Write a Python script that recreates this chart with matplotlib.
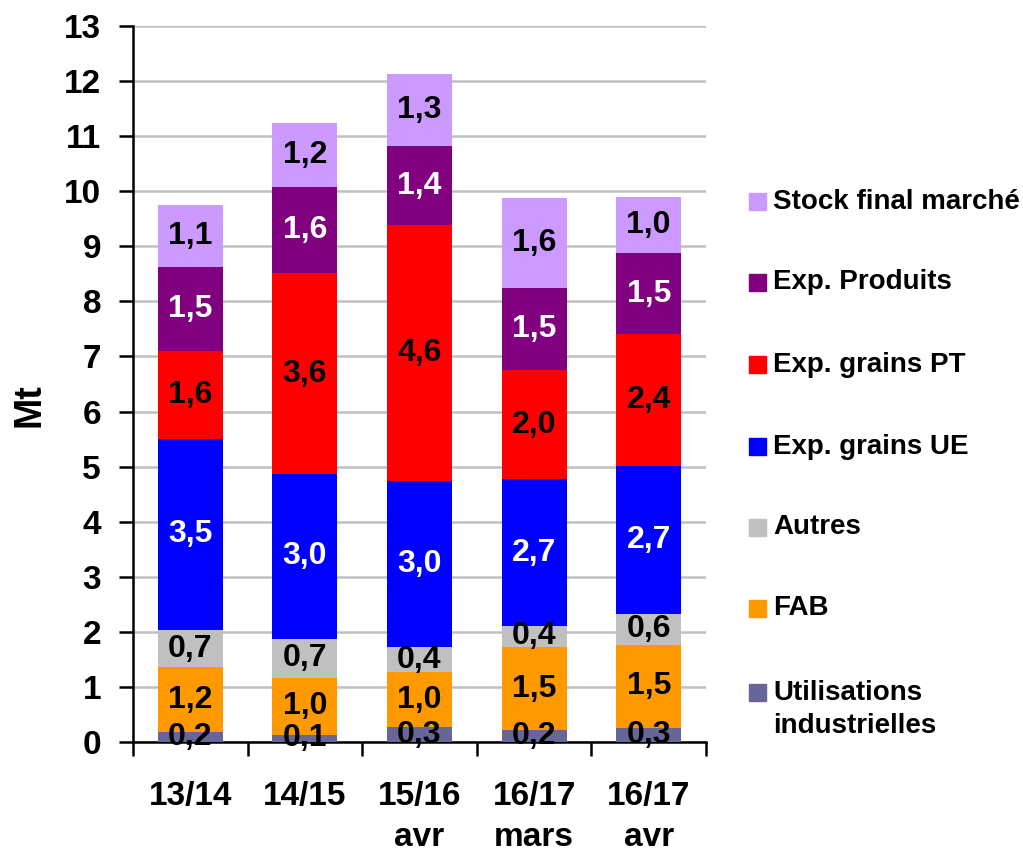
import numpy as np
import matplotlib.pyplot as plt
from matplotlib.patches import Rectangle

plt.rcParams['font.family'] = ['Liberation Sans', 'DejaVu Sans']
plt.rcParams['font.weight'] = 'bold'

# ---- data (Mt) ----
campagnes = ['13/14', '14/15', '15/16\navr', '16/17\nmars', '16/17\navr']
series = ['Utilisations\nindustrielles', 'FAB', 'Autres', 'Exp. grains UE',
          'Exp. grains PT', 'Exp. Produits', 'Stock final marché']
utilisations = [0.19, 0.14, 0.27, 0.22, 0.26]
fab = [1.17, 1.03, 1.01, 1.51, 1.51]
autres = [0.68, 0.71, 0.44, 0.38, 0.56]
exp_ue = [3.46, 2.99, 3.02, 2.66, 2.68]
exp_pt = [1.60, 3.64, 4.64, 1.99, 2.40]
exp_produits = [1.52, 1.56, 1.44, 1.48, 1.46]
stock_final = [1.13, 1.16, 1.31, 1.64, 1.03]

couleurs = ['#666699', '#FF9900', '#C0C0C0', '#0000FF', '#FF0000', '#800080', '#CC99FF']
couleurs_txt = ['black', 'black', 'black', 'white', 'black', 'white', 'black']

valeurs = [utilisations, fab, autres, exp_ue, exp_pt, exp_produits, stock_final]

W, H = 1023, 851
fig = plt.figure(figsize=(W / 100, H / 100), dpi=100)
ax = fig.add_axes([133 / W, 1 - 742.3 / H, (706 - 133) / W, (742.3 - 25.7) / H])

x = np.arange(len(campagnes))
base = np.zeros(len(campagnes))
for vals, c, tc in zip(valeurs, couleurs, couleurs_txt):
    vals = np.array(vals)
    ax.bar(x, vals, 0.567, bottom=base, color=c, zorder=3)
    for xi, b, v in zip(x, base, vals):
        ax.text(xi, b + v / 2, f'{v:.1f}'.replace('.', ','), ha='center', va='center',
                color=tc, fontsize=23, fontweight='bold', zorder=4)
    base += vals

ax.set_xlim(-0.5, len(campagnes) - 0.5)
ax.set_ylim(0, 13)
ax.set_yticks(range(0, 14))
ax.yaxis.grid(True, color='#C0C0C0', lw=1.8, zorder=0)
ax.set_axisbelow(True)

ax.set_xticks(np.arange(-0.5, len(campagnes)), labels=[])
ax.set_xticks(x, labels=campagnes, minor=True)
ax.tick_params(axis='x', which='major', direction='out', length=10, width=1.8)
ax.tick_params(axis='x', which='minor', length=0, pad=28, labelsize=24)
ax.tick_params(axis='y', direction='out', length=10, width=1.8, pad=13, labelsize=24)
for lab in ax.get_xticklabels(minor=True):
    lab.set_linespacing(1.4)
    lab.set_fontweight('bold')
for lab in ax.get_yticklabels():
    lab.set_fontweight('bold')

for s in ['top', 'right']:
    ax.spines[s].set_visible(False)
for s in ['left', 'bottom']:
    ax.spines[s].set_linewidth(1.8)

fig.text(29 / W, 1 - 405 / H, 'Mt', rotation=90, ha='center', va='center',
         fontsize=27, fontweight='bold')

# ---- legend, drawn by hand to keep the spacing ----
leg_y = [692, 608, 527, 447, 365, 282, 201.7]
for lab, c, yy in zip(series, couleurs, leg_y):
    fig.patches.append(Rectangle((749 / W, 1 - (yy + 8.5) / H), 17 / W, 17 / H,
                                 transform=fig.transFigure, color=c))
    if '\n' in lab:
        fig.text(773 / W, 1 - (yy - 12) / H, lab, ha='left', va='top',
                 fontsize=20, fontweight='bold', linespacing=1.35)
    else:
        fig.text(773 / W, 1 - yy / H, lab, ha='left', va='center',
                 fontsize=20, fontweight='bold')

fig.savefig('out.png', dpi=100)
